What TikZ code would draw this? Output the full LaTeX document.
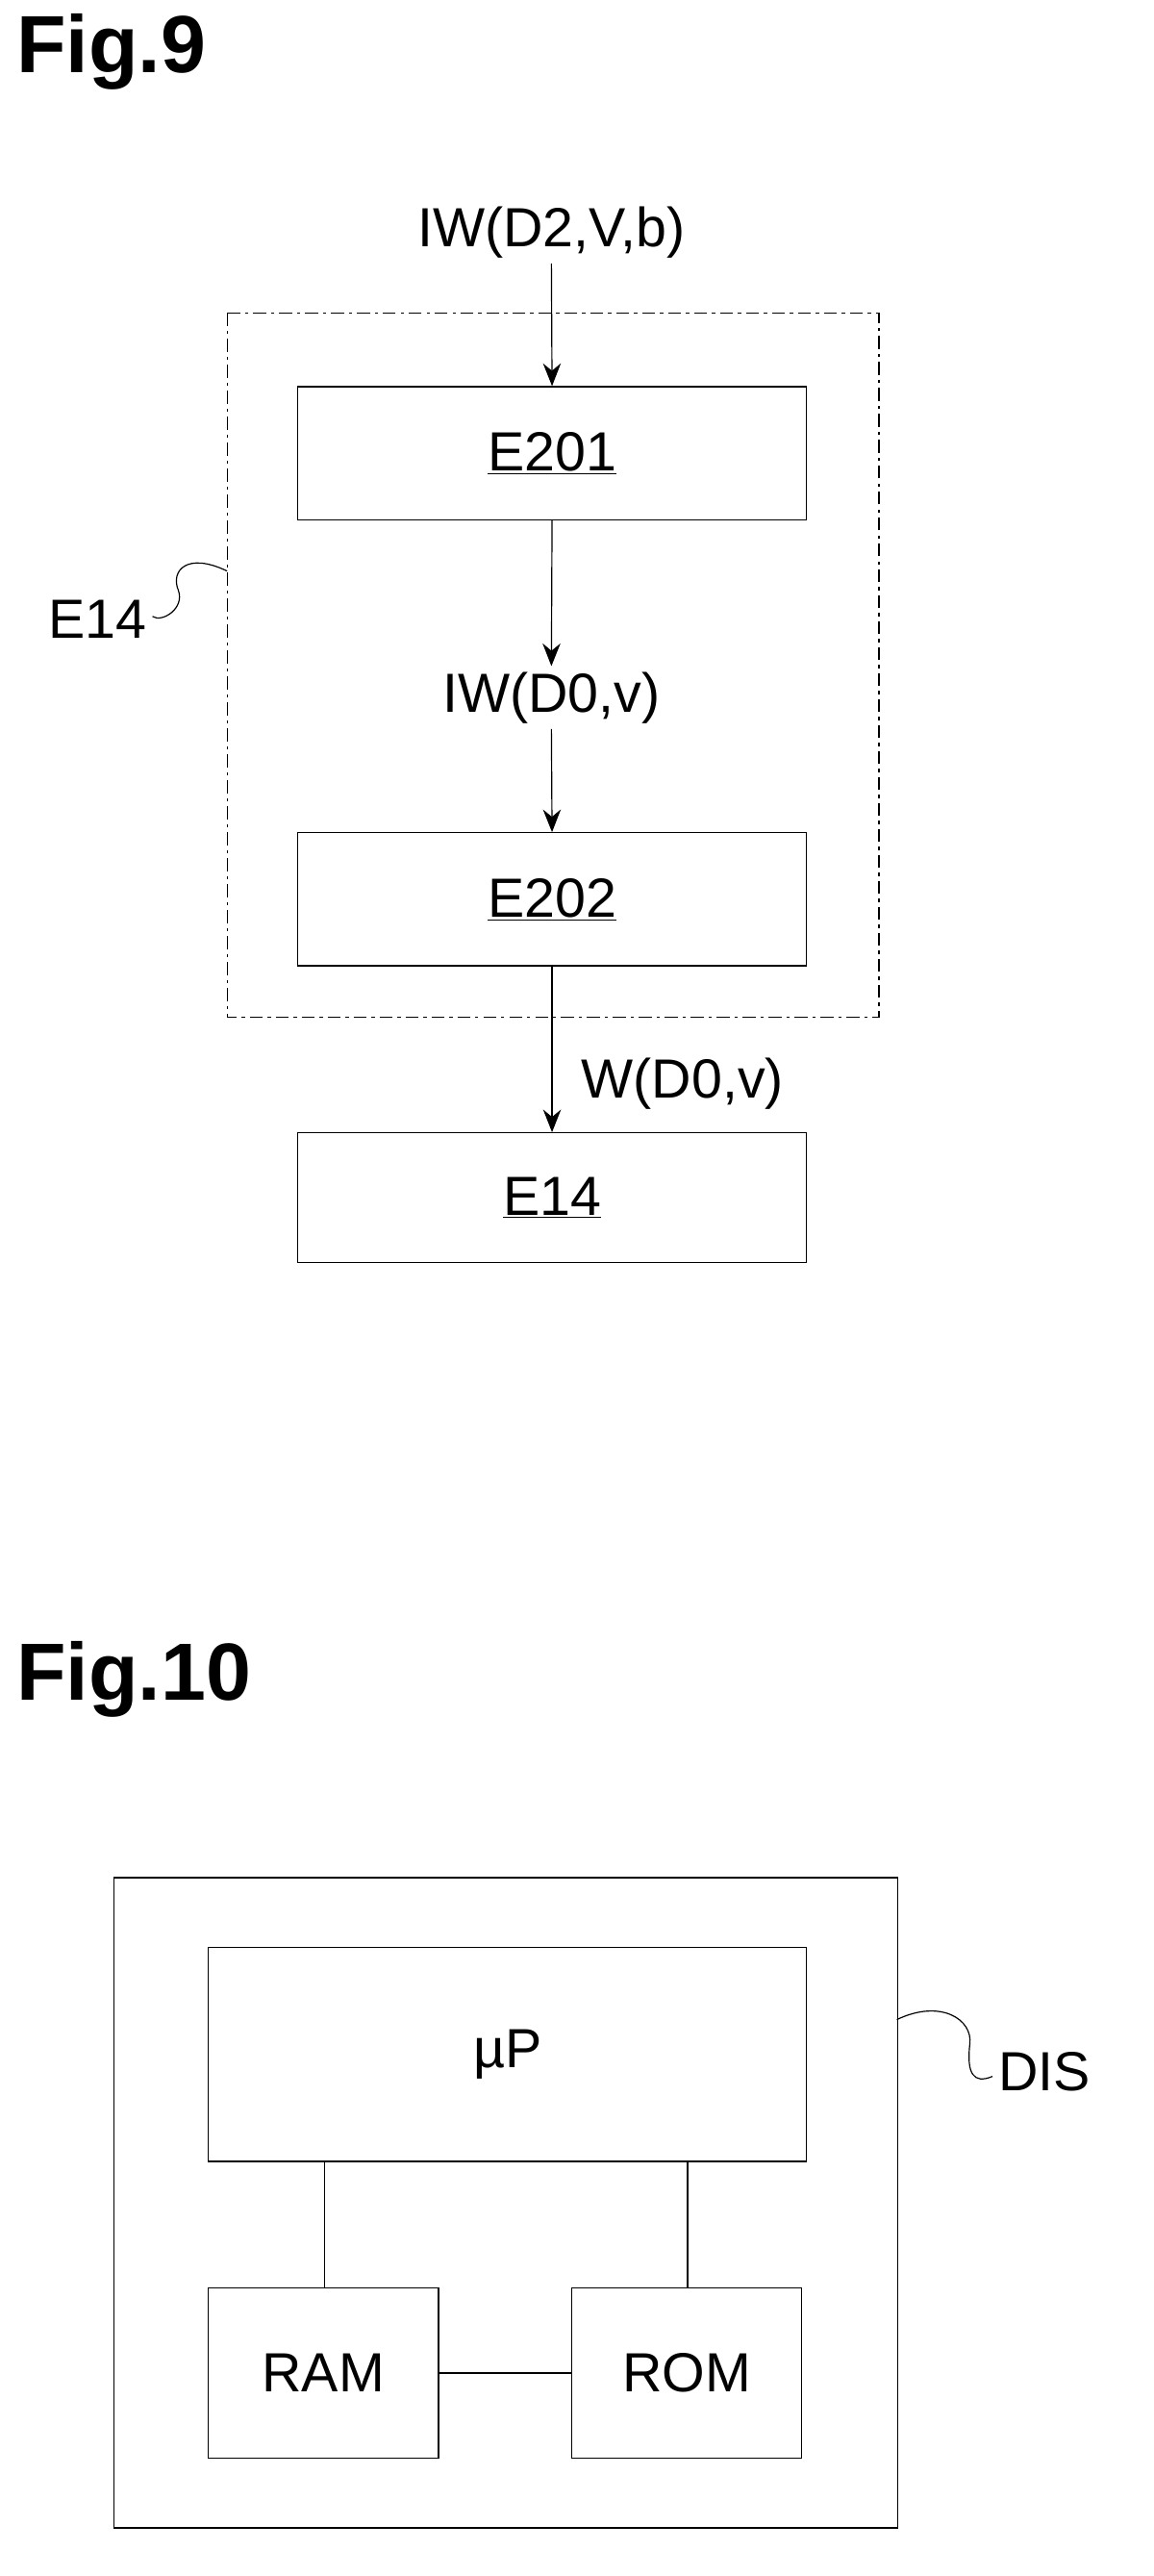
\documentclass[tikz,border=0pt]{standalone}
\usepackage{fontspec}
\setmainfont{Liberation Sans}
\usetikzlibrary{arrows.meta}
\begin{document}
\begin{tikzpicture}[x=1pt,y=-1pt,
  box/.style={draw,line width=0.8pt,anchor=north west,inner sep=0pt},
  lbl/.style={font=\fontsize{34}{40}\selectfont},
  arr/.style={draw,line width=0.7pt,-{Stealth[length=14pt,width=11pt]}},
  ln/.style={draw,line width=0.7pt}]
\useasboundingbox (0,0) rectangle (711,1588);
\node[anchor=west,font=\fontsize{50}{58}\selectfont\bfseries,inner sep=0pt] (f9) at (10,32) {Fig.9};
\node[lbl] (t1) at (340,143) {IW(D2,V,b)};
\draw[line width=0.7pt,dash pattern=on 8pt off 3pt on 2pt off 3pt] (140,193) rectangle (542,627);
\node[box,minimum width=314pt,minimum height=82pt] (e201) at (183,238) {};
\node[lbl] at (e201.center) {\underline{E201}};
\node[lbl] (t2) at (340,430) {IW(D0,v)};
\node[box,minimum width=314pt,minimum height=82pt] (e202) at (183,513) {};
\node[lbl] at (e202.center) {\underline{E202}};
\node[box,minimum width=314pt,minimum height=80pt] (e14) at (183,698) {};
\node[lbl] at (e14.center) {\underline{E14}};
\node[lbl,anchor=west] (t3) at (355,668) {W(D0,v)};
\draw[arr] (t1.south) -- (e201.north);
\draw[arr] (e201.south) -- (t2.north);
\draw[arr] (t2.south) -- (e202.north);
\draw[arr] (e202.south) -- (e14.north);
\node[lbl] (le14) at (60,382) {E14};
\coordinate (s1) at (140,352);
\draw[line width=0.7pt] (s1) .. controls (115,340) and (105,352) .. (110,364) .. controls (114,375) and (100,384) .. (94,380);
\node[anchor=west,font=\fontsize{50}{58}\selectfont\bfseries,inner sep=0pt] (f10) at (10,1035) {Fig.10};
\node[box,minimum width=483pt,minimum height=401pt] (dis) at (70,1157) {};
\node[box,minimum width=369pt,minimum height=132pt] (up) at (128,1200) {};
\node[lbl] at (up.center) {\textmu P};
\node[box,minimum width=142pt,minimum height=105pt] (ram) at (128,1410) {};
\node[lbl] at (ram.center) {RAM};
\node[box,minimum width=142pt,minimum height=105pt] (rom) at (352,1410) {};
\node[lbl] at (rom.center) {ROM};
\draw[ln] (up.south -| 200,0) -- (ram.north -| 200,0);
\draw[ln] (up.south -| 424,0) -- (rom.north -| 424,0);
\draw[ln] (ram.east) -- (rom.west);
\node[lbl,anchor=west] (ldis) at (612,1277) {DIS};
\draw[line width=0.7pt] (553,1245) .. controls (580,1232) and (600,1245) .. (598,1260) .. controls (596,1278) and (600,1285) .. (612,1280);
\end{tikzpicture}
\end{document}
